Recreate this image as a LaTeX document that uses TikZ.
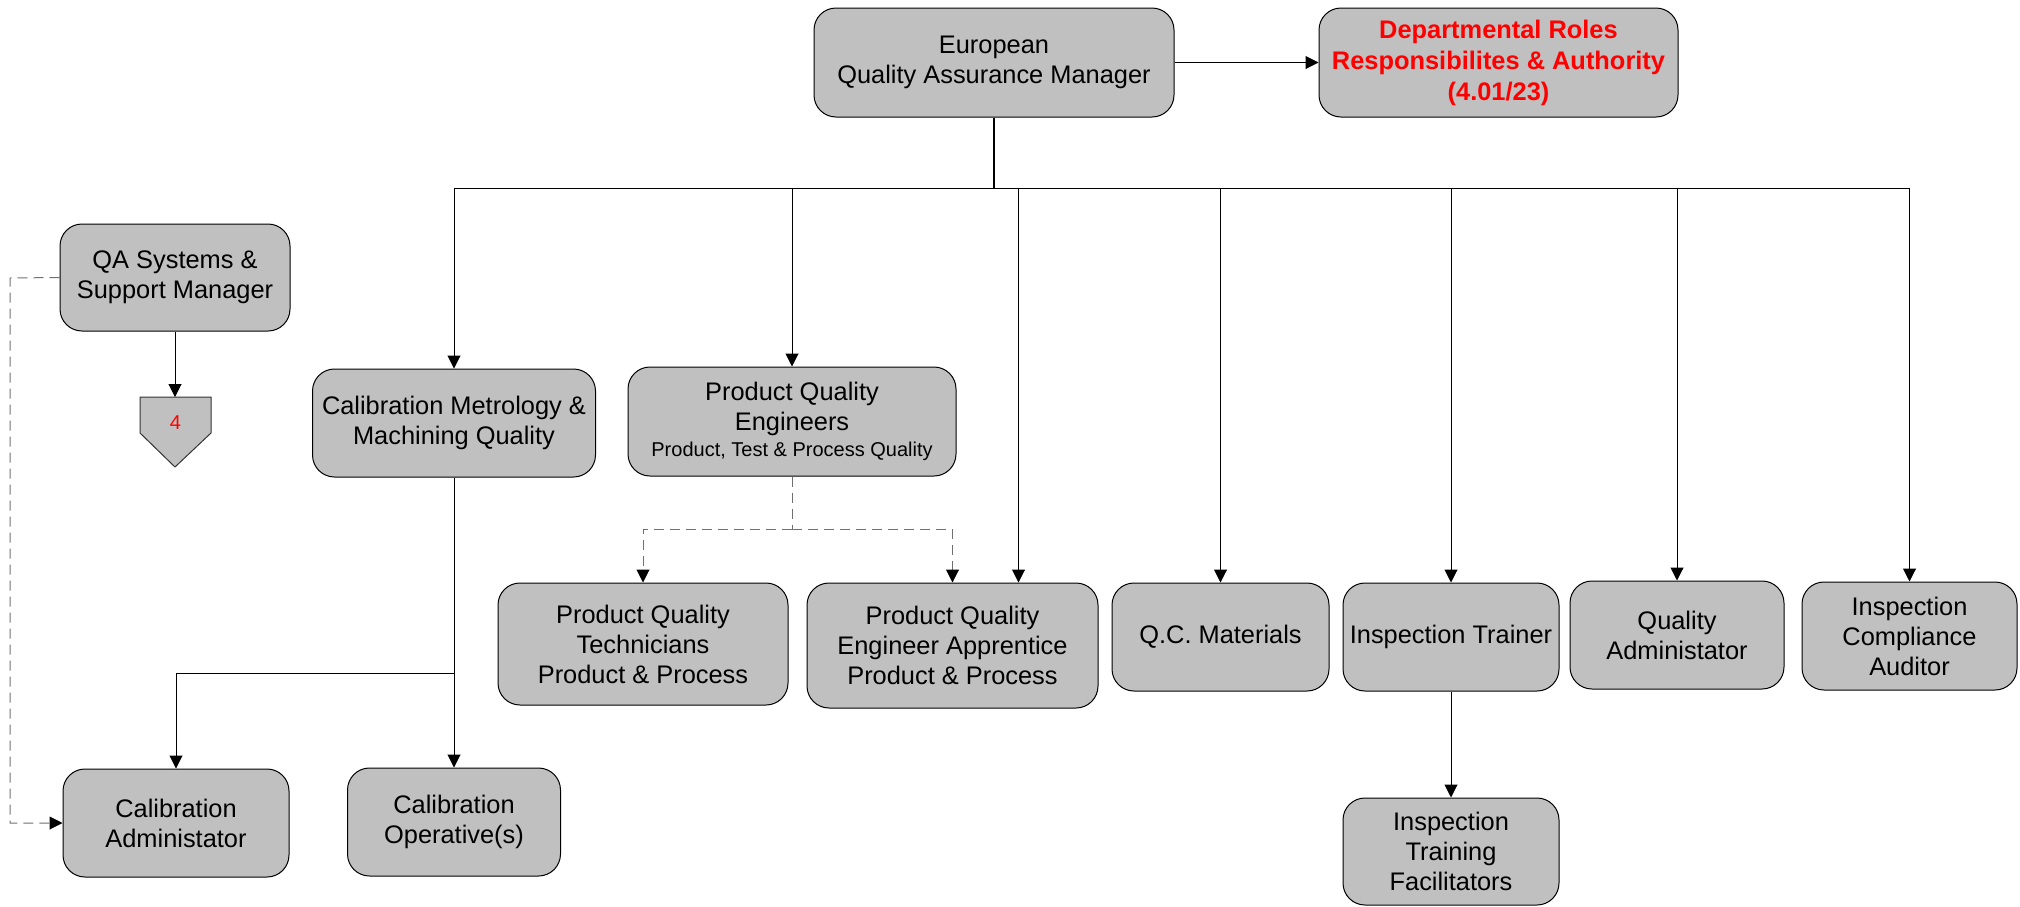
\documentclass[tikz,border=0pt]{standalone}
\usepackage{fontspec}
\setmainfont{Liberation Sans}
\usetikzlibrary{arrows.meta,calc}
\definecolor{boxgray}{HTML}{C0C0C0}
\definecolor{dashgray}{HTML}{707070}
\begin{document}
\begin{tikzpicture}[x=0.5pt,y=-0.5pt,
  orgbox/.style={draw=black, line width=0.5pt, fill=boxgray, rounded corners=11pt, align=center, inner sep=2pt, font=\fontsize{12.7}{15}\selectfont},
  conn/.style={draw=black, line width=0.5pt, -{Triangle[length=6.5pt,width=6.5pt]}},
  dconn/.style={draw=dashgray, line width=0.5pt, dash pattern=on 5pt off 3pt, -{Triangle[length=6.5pt,width=6.5pt,color=black]}},
  dline/.style={draw=dashgray, line width=0.5pt, dash pattern=on 5pt off 3pt},
]
\useasboundingbox (0,0) rectangle (2020,906);

% nodes
\node[orgbox, minimum width=180pt, minimum height=54.5pt] (eqam) at (994,62.5) {European\\Quality Assurance Manager};
\node[orgbox, minimum width=179.5pt, minimum height=54.5pt, text=red, font=\fontsize{12.7}{15.5}\selectfont\bfseries] (dept) at (1498.5,62.5) {Departmental Roles\\Responsibilites \& Authority\\(4.01/23)};
\node[orgbox, minimum width=115pt, minimum height=53.5pt] (qas) at (175,277.5) {QA Systems \&\\Support Manager};

\draw[fill=boxgray, draw=black!80, line width=0.5pt] (140,397) -- (211,397) -- (211,433) -- (175,467) -- (140,433) -- cycle;
\coordinate (ptop) at (175,397);
\node[text=red, font=\fontsize{10}{12}\selectfont, inner sep=0pt] (n4) at (175.5,423) {4};

\node[orgbox, minimum width=141.5pt, minimum height=54pt] (calmet) at (454,423) {Calibration Metrology \&\\Machining Quality};
\node[orgbox, minimum width=164pt, minimum height=54.5pt] (pqe) at (792,421.5) {Product Quality\\Engineers\\[-2pt]{\fontsize{10}{12}\selectfont Product, Test \& Process Quality}};
\node[orgbox, minimum width=145pt, minimum height=61pt] (pqt) at (643,644) {Product Quality\\Technicians\\Product \& Process};
\node[orgbox, minimum width=145.5pt, minimum height=62.5pt] (pqea) at (952.5,645.5) {Product Quality\\Engineer Apprentice\\Product \& Process};
\node[orgbox, minimum width=108.5pt, minimum height=54pt] (qcm) at (1220.5,637) {Q.C. Materials};
\node[orgbox, minimum width=108pt, minimum height=54pt] (itr) at (1451,637) {Inspection Trainer};
\node[orgbox, minimum width=107pt, minimum height=54pt] (qadm) at (1677,635) {Quality\\Administator};
\node[orgbox, minimum width=107.5pt, minimum height=54pt] (ica) at (1909.5,636) {Inspection\\Compliance\\Auditor};
\node[orgbox, minimum width=108pt, minimum height=53.5pt] (itf) at (1451,851.5) {Inspection\\Training\\Facilitators};
\node[orgbox, minimum width=113pt, minimum height=54pt] (caladm) at (176,823) {Calibration\\Administator};
\node[orgbox, minimum width=106.5pt, minimum height=54pt] (calop) at (454,822) {Calibration\\Operative(s)};

% connectors
\draw[conn] (eqam.east) -- (dept.west);
\coordinate (bus) at (994,188);
\draw[line width=0.9pt] (eqam.south) -- (bus);
\draw[conn] (bus) -| (calmet.north);
\draw[conn] (bus) -| (pqe.north);
\draw[conn] (bus) -| ($(pqea.north)+(66,0)$);
\draw[conn] (bus) -| (qcm.north);
\draw[conn] (bus) -| (itr.north);
\draw[conn] (bus) -| (qadm.north);
\draw[conn] (bus) -| (ica.north);

\draw[conn] (qas.south) -- (ptop);

\coordinate (dl) at (10,278);
\draw[dconn] (qas.west) -- (dl) |- (caladm.west);

\coordinate (cj) at (454,673);
\draw[conn] (calmet.south) -- (calop.north);
\draw[conn] (cj) -| (caladm.north);

\coordinate (pj) at (792,529);
\draw[dline] (pqe.south) -- (pj);
\draw[dconn] (pj) -| (pqt.north);
\draw[dconn] (pj) -| (pqea.north);

\draw[conn] (itr.south) -- (itf.north);
\end{tikzpicture}
\end{document}
